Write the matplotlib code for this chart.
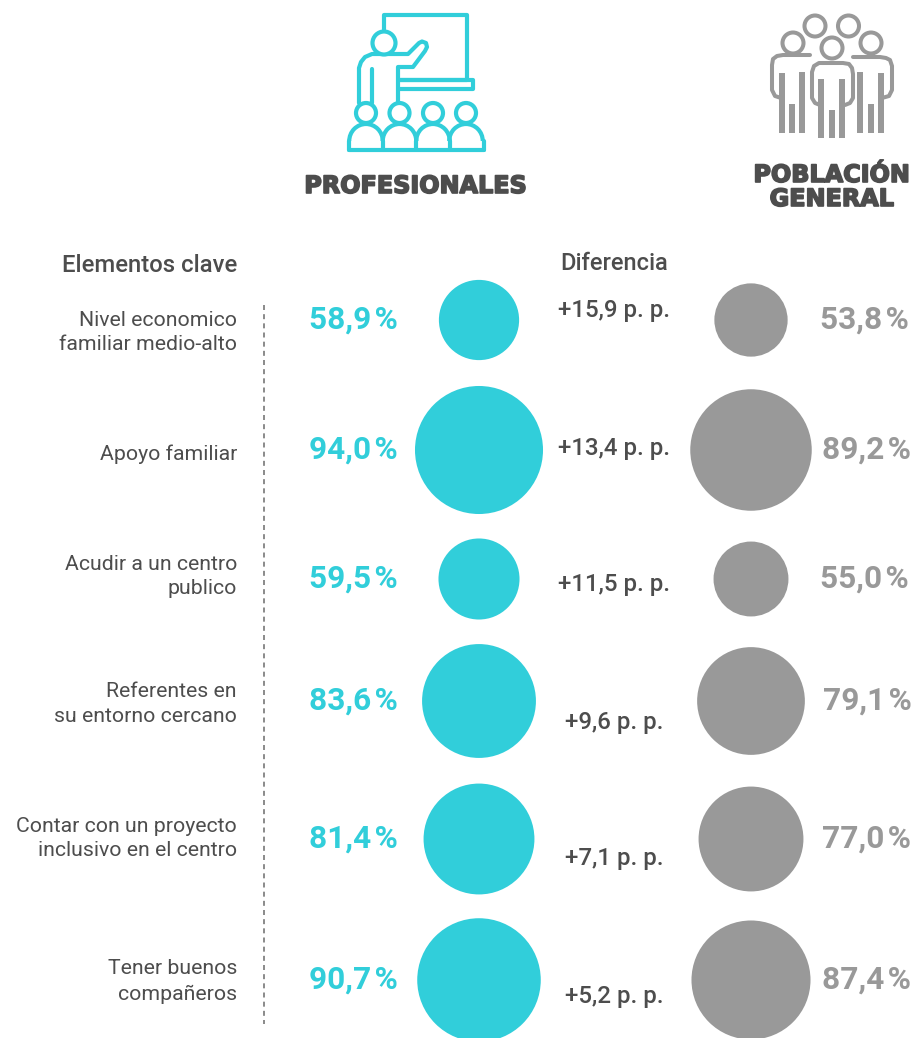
import matplotlib
matplotlib.use("Agg")
import matplotlib.pyplot as plt
import matplotlib.patheffects as pe
from matplotlib.patches import Circle, Rectangle, Arc

labels = ["Nivel economico\nfamiliar medio-alto", "Apoyo familiar", "Acudir a un centro\npublico",
          "Referentes en\nsu entorno cercano", "Contar con un proyecto\ninclusivo en el centro",
          "Tener buenos\ncompañeros"]
profesionales = [58.9, 94.0, 59.5, 83.6, 81.4, 90.7]
poblacion = [53.8, 89.2, 55.0, 79.1, 77.0, 87.4]
diferencia = [15.9, 13.4, 11.5, 9.6, 7.1, 5.2]

TEAL = "#31CEDA"
GREY = "#999999"
DARK = "#4D4D4D"
W, H = 918, 1038
rows = [320, 450, 579, 701, 839, 980]
label_y = [332.5, 454.5, 576.5, 704, 838.5, 981.5]
diff_y = [311, 448, 585, 723, 859, 996]
R = 0.681

plt.rcParams["font.family"] = ["Roboto", "DejaVu Sans"]
fig = plt.figure(figsize=(W / 100, H / 100), dpi=100)
ax = fig.add_axes([0, 0, 1, 1])
ax.set_xlim(0, W)
ax.set_ylim(H, 0)
ax.set_aspect("equal")
ax.axis("off")


def pct(v):
    return f"{v:.1f}".replace(".", ",") + "\u200a%"


for i, lab in enumerate(labels):
    ax.text(237, label_y[i], lab, ha="right", va="center", fontsize=15.3, color=DARK,
            linespacing=1.4, fontweight="regular")
    ax.add_patch(Circle((479, rows[i]), profesionales[i] * R, fc=TEAL, ec="none"))
    ax.add_patch(Circle((751, rows[i]), poblacion[i] * R, fc=GREY, ec="none"))
    ax.text(397.5, rows[i], pct(profesionales[i]), ha="right", va="center",
            fontsize=22.8, fontweight="bold", color=TEAL)
    ax.text(911.5 if poblacion[i] > 60 else 908.5, rows[i], pct(poblacion[i]),
            ha="right", va="center", fontsize=22.8, fontweight="bold", color=GREY)
    ax.text(614.5, diff_y[i], "+" + f"{diferencia[i]:.1f}".replace(".", ",") + " p. p.", ha="center", va="center",
            fontsize=17.3, fontweight="medium", color=DARK)

ax.text(237, 265, "Elementos clave", ha="right", va="center", fontsize=17.2, fontweight="medium", color=DARK)
ax.text(614, 263, "Diferencia", ha="center", va="center", fontsize=17, fontweight="medium", color=DARK)
ax.plot([264, 264], [305, 1024], color="#777777", lw=1.2, dashes=(3, 2.5))

heavy = [pe.withStroke(linewidth=1.2, foreground=DARK)]
ax.text(416, 186, "PROFESIONALES", ha="center", va="center", fontsize=17.2, fontweight="bold",
        family="DejaVu Sans", color=DARK, path_effects=heavy)
ax.text(832, 187, "POBLACIÓN\nGENERAL", ha="center", va="center", fontsize=17.2, fontweight="bold",
        family="DejaVu Sans", color=DARK, linespacing=1.0, path_effects=heavy)


# Teal presenter icon
def line(xs, ys, c, lw):
    ax.plot(xs, ys, color=c, lw=lw, solid_capstyle="round", solid_joinstyle="round")


t = 3.0
line([384, 384, 467, 467, 398], [31, 15, 15, 80, 80], TEAL, t)
line([398, 473, 473, 398], [80, 80, 89, 89], TEAL, t)
ax.add_patch(Circle((384, 43), 11.5, fc="white", ec=TEAL, lw=t, zorder=3))
line([359, 359, 361, 365, 372, 408, 419, 422, 426, 427, 425, 413, 398, 398],
     [103, 68, 62, 57, 54, 54, 43, 41.5, 43, 47, 51, 67, 67, 103], TEAL, t)
line([372, 372], [69, 103], TEAL, t)
for cx in [366, 399.5, 433, 466]:
    ax.add_patch(Arc((cx, 141), 33.5, 34, theta1=180, theta2=360, ec=TEAL, lw=t, zorder=2))
    ax.add_patch(Circle((cx, 113), 10, fc="white", ec=TEAL, lw=t, zorder=3))
line([349, 484], [150, 150], TEAL, t)
for x in [349, 382.5, 416, 449.5, 483.5]:
    line([x, x], [141, 150], TEAL, t)

# Grey people icon
g = 2.9
line([810, 783, 777, 773, 772, 772, 775, 781], [55, 55, 56, 59, 65, 90, 96, 98], GREY, g)
line([853, 880, 886, 890, 892, 892, 889, 882], [57, 57, 58, 60, 66, 90, 96, 98], GREY, g)
line([823, 819, 814, 812, 812, 815, 820], [63, 63, 66, 72, 98, 103, 105], GREY, g)
line([823, 843, 849, 852, 853, 853, 850, 845], [63, 63, 64, 68, 74, 98, 103, 105], GREY, g)
for cx, cy in [(815, 26), (848.5, 26), (793, 43), (871, 43), (832, 48)]:
    ax.add_patch(Circle((cx, cy), 10.5, fc="white", ec=GREY, lw=g, zorder=3))
for x, y0, y1 in [(782, 73, 133), (792, 104, 133), (802, 72, 133), (860, 72, 133), (871, 104, 133), (881, 73, 133),
                  (821, 79, 138), (832, 110, 138), (842, 79, 138)]:
    ax.add_patch(Rectangle((x - 2.6, y0), 5.2, y1 - y0, fc=GREY, ec="none", zorder=2))

fig.savefig("out.png", dpi=100)
